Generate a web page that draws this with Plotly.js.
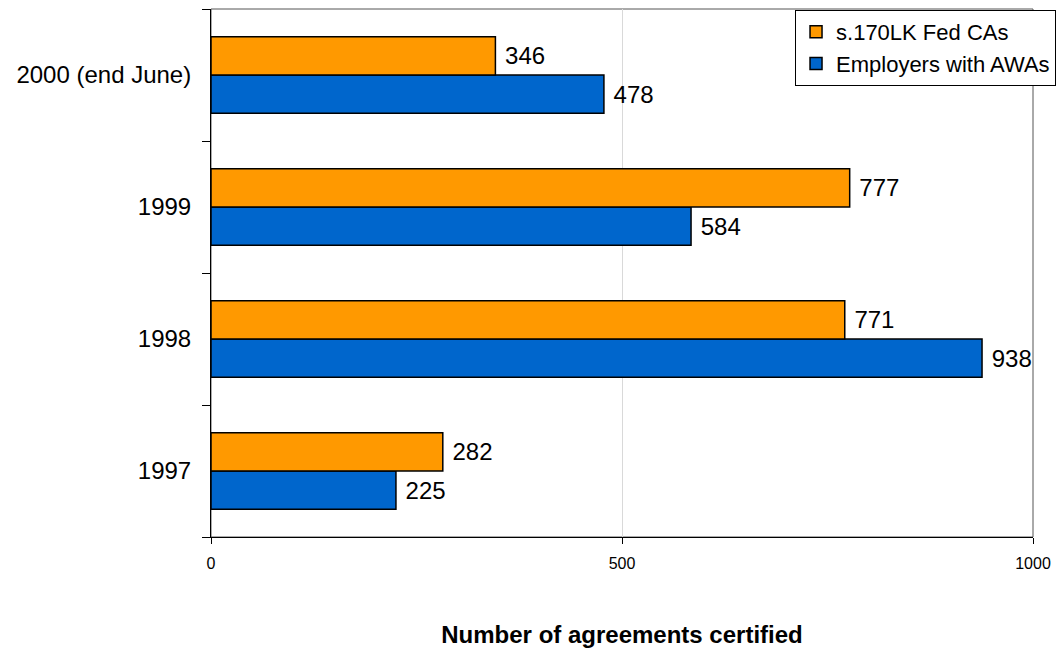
<!DOCTYPE html>
<html>
<head>
<meta charset="utf-8">
<script src="https://cdn.plot.ly/plotly-3.0.1.min.js"></script>
<style>html,body{margin:0;padding:0;background:#fff;}#chart{width:1062px;height:648px;}</style>
</head>
<body>
<div id="chart"></div>
<script>
const categories = ['1997', '1998', '1999', '2000 (end June)'];
const fedCAs = [282, 771, 777, 346];
const employersAWAs = [225, 938, 584, 478];
const seriesNames = ['s.170LK Fed CAs', 'Employers with AWAs'];
const xTickValues = [0, 500, 1000];
const xTitle = 'Number of agreements certified';

const font = 'Liberation Sans, Arial, sans-serif';

const traces = [
  {
    type: 'bar', orientation: 'h', name: seriesNames[1],
    y: categories, x: employersAWAs,
    marker: {color: '#0066CC', line: {color: '#000', width: 1.5}},
    text: employersAWAs.map(v => ' ' + v), textposition: 'outside', cliponaxis: false,
    textfont: {family: font, size: 24, color: '#000'}
  },
  {
    type: 'bar', orientation: 'h', name: seriesNames[0],
    y: categories, x: fedCAs,
    marker: {color: '#FF9900', line: {color: '#000', width: 1.5}},
    text: fedCAs.map(v => ' ' + v), textposition: 'outside', cliponaxis: false,
    textfont: {family: font, size: 24, color: '#000'}
  }
];

const layout = {
  width: 1062, height: 648,
  margin: {l: 211, r: 29, t: 9, b: 111, autoexpand: false},
  paper_bgcolor: '#fff', plot_bgcolor: '#fff',
  font: {family: font, color: '#000'},
  barmode: 'group', bargap: 0.42, bargroupgap: 0,
  showlegend: true,
  legend: {
    x: 0.7105, y: 0.998, xanchor: 'left', yanchor: 'top',
    traceorder: 'reversed',
    bgcolor: '#fff', bordercolor: '#000', borderwidth: 1,
    font: {family: font, size: 22, color: '#000'},
    itemwidth: 30, tracegroupgap: 0
  },
  xaxis: {
    range: [0, 1000], tickvals: xTickValues, ticktext: xTickValues.map(String),
    ticks: 'outside', ticklen: 6, tickcolor: '#000',
    showgrid: true, gridcolor: '#d9d9d9', gridwidth: 1, zeroline: false,
    showline: true, linecolor: '#000', linewidth: 1,
    tickfont: {family: font, size: 16, color: '#000'},
    ticklabelstandoff: 6,
    title: {text: xTitle, font: {family: font, size: 24, color: '#000', weight: 'bold'}, standoff: 55},
    automargin: false
  },
  yaxis: {
    type: 'category', categoryorder: 'array', categoryarray: categories,
    tickson: 'boundaries', ticks: 'outside', ticklen: 8, tickcolor: '#000',
    showgrid: false, zeroline: false,
    showline: true, linecolor: '#000', linewidth: 1,
    tickfont: {family: font, size: 24, color: '#000'},
    ticklabelstandoff: 14,
    automargin: false
  },
  shapes: [{
    type: 'rect', xref: 'paper', yref: 'paper', x0: 0, x1: 1, y0: 0, y1: 1,
    line: {color: '#555', width: 1}, layer: 'below'
  }]
};

Plotly.newPlot('chart', traces, layout, {displayModeBar: false, staticPlot: true});
</script>
</body>
</html>
